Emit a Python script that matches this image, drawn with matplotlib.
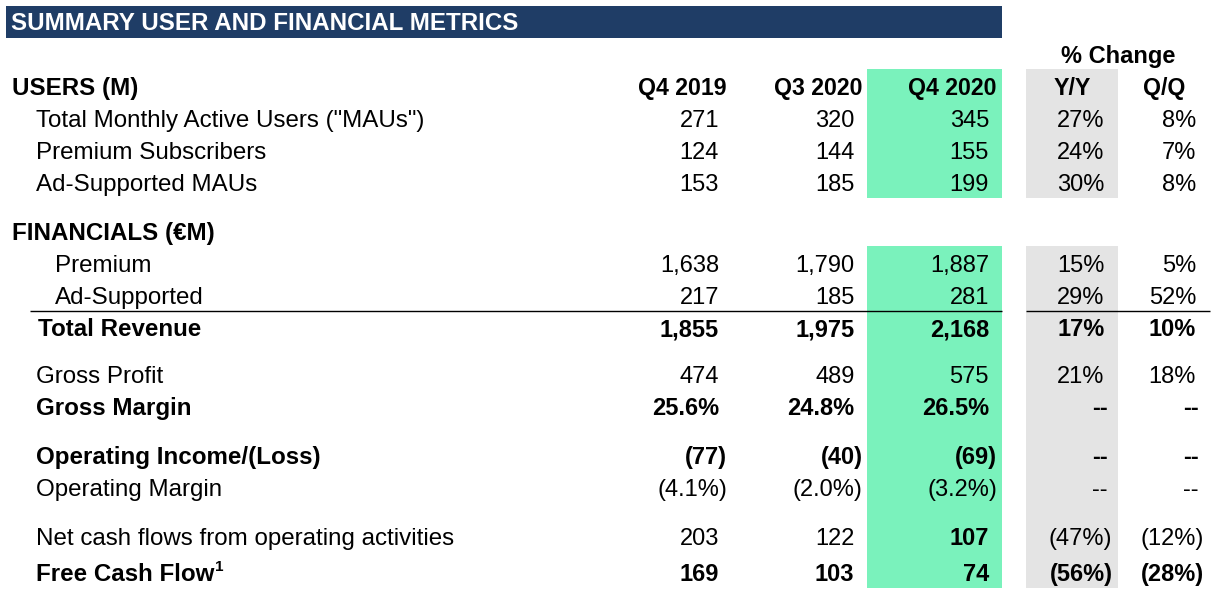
import matplotlib
matplotlib.use("Agg")
import matplotlib.pyplot as plt

title = "SUMMARY USER AND FINANCIAL METRICS"
columns = ["Q4 2019", "Q3 2020", "Q4 2020", "Y/Y", "Q/Q"]

row_labels = ['Total Monthly Active Users ("MAUs")', "Premium Subscribers", "Ad-Supported MAUs",
              "Premium", "Ad-Supported", "Total Revenue", "Gross Profit", "Gross Margin",
              "Operating Income/(Loss)", "Operating Margin",
              "Net cash flows from operating activities", "Free Cash Flow"]
q4_2019 = ["271", "124", "153", "1,638", "217", "1,855", "474", "25.6%", "(77)", "(4.1%)", "203", "169"]
q3_2020 = ["320", "144", "185", "1,790", "185", "1,975", "489", "24.8%", "(40)", "(2.0%)", "122", "103"]
q4_2020 = ["345", "155", "199", "1,887", "281", "2,168", "575", "26.5%", "(69)", "(3.2%)", "107", "74"]
yy_change = ["27%", "24%", "30%", "15%", "29%", "17%", "21%", "--", "--", "--", "(47%)", "(56%)"]
qq_change = ["8%", "7%", "8%", "5%", "52%", "10%", "18%", "--", "--", "--", "(12%)", "(28%)"]

# layout in image pixels
baselines = [127, 159, 191, 272, 304, 336, 383, 415, 464, 496, 545, 581]
label_x = [36, 36, 36, 55, 55, 38, 36, 36, 36, 36, 36, 36]
bold_rows = [5, 7, 8, 11]
col_right = [719, 854.5, 989, 1104.5, 1196]
FONT = "Liberation Sans"
SIZE = 17.0
LABEL_SIZE = 17.35
HEAD_SIZE = 16.7

fig = plt.figure(figsize=(12.25, 6.0), dpi=100)
ax = fig.add_axes([0, 0, 1, 1])
ax.set_xlim(0, 1225)
ax.set_ylim(600, 0)
ax.axis("off")


def put(x, y, s, ha="left", bold=False, color="black", size=SIZE):
    ax.text(x, y, s, ha=ha, va="baseline", family=FONT, fontsize=size,
            fontweight="bold" if bold else "normal", color=color)


def box(x0, x1, y0, y1, color):
    ax.fill_between([x0, x1], y0, y1, color=color, lw=0)


box(6, 1002, 6, 38, "#1F3D66")
for y0, y1 in [(69, 198), (246, 588)]:
    box(867, 1002, y0, y1, "#7AF2BC")
    box(1026, 1118, y0, y1, "#E4E4E4")

ax.plot([30, 1002], [310.5, 310.5], color="black", lw=1, solid_capstyle="butt")
ax.plot([1026, 1210], [310.5, 310.5], color="black", lw=1, solid_capstyle="butt")

put(11, 30.5, title, bold=True, color="white", size=LABEL_SIZE)
put(1118, 63, "% Change", ha="center", bold=True)
put(12, 95, "USERS (M)", bold=True, size=LABEL_SIZE)
put(12, 240, "FINANCIALS (€M)", bold=True, size=LABEL_SIZE)

for x, name in zip([727, 862, 997], columns[:3]):
    put(x, 95, name, ha="right", bold=True, size=HEAD_SIZE)
put(1072, 95, columns[3], ha="center", bold=True, size=HEAD_SIZE)
put(1164, 95, columns[4], ha="center", bold=True, size=HEAD_SIZE)

for i, label in enumerate(row_labels):
    put(label_x[i], baselines[i], label, bold=i in bold_rows, size=LABEL_SIZE)
    for j, col in enumerate([q4_2019, q3_2020, q4_2020, yy_change, qq_change]):
        val = col[i]
        x = col_right[j]
        # closing brackets and dashes hang past the number edge
        if val.endswith(")"):
            x += 8
        elif val == "--":
            x += 3
        put(x, baselines[i], val, ha="right", bold=i in bold_rows or (i == 10 and j == 2))

put(215, 571, "1", bold=True, size=11)

fig.savefig("out.png", dpi=100)
